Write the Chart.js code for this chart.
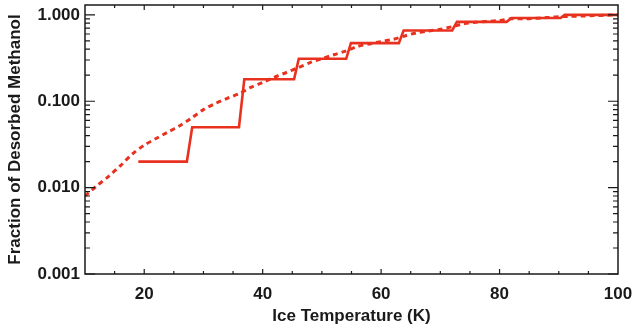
<!DOCTYPE html>
<html>
<head>
<meta charset="utf-8">
<script src="https://cdn.jsdelivr.net/npm/chart.js@4/dist/chart.umd.min.js"></script>
<style>
  html, body { margin: 0; padding: 0; background: #fff; }
  #wrap { width: 635px; height: 328px; }
</style>
</head>
<body>
<div id="wrap"><canvas id="chart" width="635" height="328"></canvas></div>
<script>
// solid staircase: desorbed fraction per temperature step
var stepTemp = [19, 27.2, 28.1, 36.0, 36.9, 45.3, 46.1, 54.1, 54.9, 63.0, 63.8, 72.0, 72.8, 81.2, 82.0, 90.3, 91.0, 100];
var stepFrac = [0.02, 0.02, 0.05, 0.05, 0.18, 0.18, 0.31, 0.31, 0.47, 0.47, 0.66, 0.66, 0.83, 0.83, 0.92, 0.92, 1.0, 1.0];

// dotted curve
var curveTemp = [10, 12, 14, 16, 18, 20, 22, 24, 26, 28, 30, 32, 34, 36, 38, 40, 42, 44, 46, 48, 50, 52, 54, 56, 58, 60, 62, 64, 66, 68, 70, 72, 74, 76, 78, 80, 82, 84, 86, 88, 90, 92, 94, 96, 98, 100];
var curveFrac = [0.0080, 0.0105, 0.0135, 0.0180, 0.0245, 0.031, 0.037, 0.044, 0.052, 0.064, 0.080, 0.094, 0.108, 0.122, 0.145, 0.165, 0.190, 0.215, 0.245, 0.28, 0.31, 0.345, 0.38, 0.43, 0.46, 0.49, 0.52, 0.57, 0.62, 0.65, 0.68, 0.73, 0.79, 0.82, 0.84, 0.86, 0.90, 0.90, 0.91, 0.93, 0.95, 0.96, 0.97, 0.98, 0.99, 1.0];

// tick labels
var xTicks = [20, 40, 60, 80, 100];
var yTicks = [0.001, 0.01, 0.1, 1];

var red = '#e8321f';
var ink = '#1a1a1a';

function toPoints(xs, ys) {
    return xs.map(function(v, i) { return {x: v, y: ys[i]}; });
}

// frame + inward ticks on all four sides, placed with the chart's scales
var frameTicks = {
    id: 'frameTicks',
    afterDatasetsDraw: function(chart) {
        var ctx = chart.ctx;
        var a = chart.chartArea;
        var x = chart.scales.x;
        var y = chart.scales.y;
        ctx.save();
        ctx.strokeStyle = ink;
        ctx.lineWidth = 1.5;
        ctx.strokeRect(a.left, a.top, a.right - a.left, a.bottom - a.top);

        ctx.lineWidth = 1.2;
        ctx.beginPath();
        for (var t = 15; t < 100; t += 5) {
            var px = x.getPixelForValue(t);
            var len = (t % 20 === 0) ? 5 : 3;
            ctx.moveTo(px, a.bottom); ctx.lineTo(px, a.bottom - len);
            ctx.moveTo(px, a.top); ctx.lineTo(px, a.top + len);
        }
        yTicks.forEach(function(d, k) {
            var py = y.getPixelForValue(d);
            ctx.moveTo(a.left, py); ctx.lineTo(a.left + 10, py);
            ctx.moveTo(a.right, py); ctx.lineTo(a.right - 10, py);
            if (k === yTicks.length - 1) return;
            for (var m = 2; m <= 9; m++) {
                var pm = y.getPixelForValue(d * m);
                ctx.moveTo(a.left, pm); ctx.lineTo(a.left + 5, pm);
                ctx.moveTo(a.right, pm); ctx.lineTo(a.right - 5, pm);
            }
        });
        ctx.stroke();
        ctx.restore();
    }
};

var ctx = document.getElementById('chart').getContext('2d');
var chart = new Chart(ctx, {
    type: 'scatter',
    data: {
        datasets: [{
            label: 'Steps',
            data: toPoints(stepTemp, stepFrac),
            showLine: true,
            borderColor: red,
            borderWidth: 2.6,
            pointRadius: 0,
            tension: 0
        }, {
            label: 'Curve',
            data: toPoints(curveTemp, curveFrac),
            showLine: true,
            borderColor: red,
            borderWidth: 3,
            borderDash: [5, 4],
            pointRadius: 0,
            tension: 0.3
        }]
    },
    options: {
        responsive: false,
        animation: false,
        layout: { padding: { top: 5, right: 17, left: 0, bottom: 0 } },
        plugins: {
            legend: { display: false },
            tooltip: { enabled: false }
        },
        scales: {
            x: {
                type: 'linear',
                min: 10,
                max: 100,
                afterBuildTicks: function(scale) {
                    scale.ticks = xTicks.map(function(v) { return {value: v}; });
                },
                afterFit: function(scale) {
                    scale.height = 54;
                    scale.paddingLeft = 0;
                    scale.paddingRight = 0;
                },
                grid: { display: false, drawTicks: false },
                border: { display: false },
                ticks: {
                    padding: 10,
                    color: ink,
                    maxRotation: 0,
                    font: { family: 'Liberation Sans', weight: 'bold', size: 17 }
                },
                title: {
                    display: true,
                    text: 'Ice Temperature (K)',
                    color: ink,
                    padding: { top: 0, bottom: 1 },
                    font: { family: 'Liberation Sans', weight: 'bold', size: 17 }
                }
            },
            y: {
                type: 'logarithmic',
                min: 0.001,
                max: 1.3,
                afterBuildTicks: function(scale) {
                    scale.ticks = yTicks.map(function(v) { return {value: v}; });
                },
                afterFit: function(scale) {
                    scale.width = 85;
                    scale.paddingTop = 0;
                    scale.paddingBottom = 0;
                },
                grid: { display: false, drawTicks: false },
                border: { display: false },
                ticks: {
                    padding: 5,
                    color: ink,
                    font: { family: 'Liberation Sans', weight: 'bold', size: 17 },
                    callback: function(v) { return Number(v).toFixed(3); }
                },
                title: {
                    display: true,
                    text: 'Fraction of Desorbed Methanol',
                    color: ink,
                    padding: { top: 5, bottom: 0 },
                    font: { family: 'Liberation Sans', weight: 'bold', size: 17 }
                }
            }
        }
    },
    plugins: [frameTicks]
});
</script>
</body>
</html>
